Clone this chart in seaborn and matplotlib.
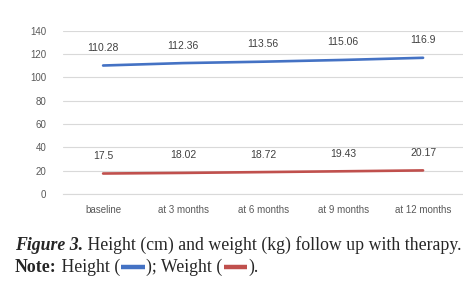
import numpy as np
import pandas as pd
import matplotlib
matplotlib.use('Agg')
import matplotlib.pyplot as plt
import seaborn as sns

categories = ['baseline', 'at 3 months', 'at 6 months', 'at 9 months', 'at 12 months']
height = [110.28, 112.36, 113.56, 115.06, 116.9]
weight = [17.5, 18.02, 18.72, 19.43, 20.17]
height_labels = ['110.28', '112.36', '113.56', '115.06', '116.9']
weight_labels = ['17.5', '18.02', '18.72', '19.43', '20.17']

blue = '#4472C4'
red = '#C0504D'

df = pd.DataFrame({'time': categories * 2,
                   'value': height + weight,
                   'series': ['Height'] * 5 + ['Weight'] * 5})
df['x'] = list(range(5)) * 2

sns.set_style('white')
plt.rcParams['font.family'] = ['Liberation Sans', 'DejaVu Sans']
fig = plt.figure(figsize=(4.64, 2.81), dpi=100)
ax = fig.add_axes([0.136, 0.310, 0.862, 0.580])

sns.lineplot(data=df, x='x', y='value', hue='series', palette=[blue, red],
             linewidth=1.9, legend=False, ax=ax)

for i in range(5):
    ax.annotate(height_labels[i], (i, height[i]), xytext=(0, 9), textcoords='offset points',
                ha='center', va='bottom', fontsize=7.5, color='#404040')
    ax.annotate(weight_labels[i], (i, weight[i]), xytext=(0, 9), textcoords='offset points',
                ha='center', va='bottom', fontsize=7.5, color='#404040')

ax.set_xlim(-0.5, 4.5)
ax.set_ylim(0, 140)
ax.set_yticks(range(0, 141, 20))
ax.set_xticks(range(5))
ax.set_xticklabels(categories)
ax.set_xticks(np.arange(0.5, 4.5, 1), minor=True)
ax.tick_params(axis='x', which='major', length=0, labelsize=7, colors='#595959', pad=8)
ax.tick_params(axis='x', which='minor', length=4, color='#d9d9d9', width=0.8)
ax.tick_params(axis='y', length=0, labelsize=7, colors='#595959', pad=12)
ax.grid(axis='y', color='#d9d9d9', linewidth=0.8)
ax.set_axisbelow(True)
for s in ['top', 'right', 'left']:
    ax.spines[s].set_visible(False)
ax.spines['bottom'].set_color('#d9d9d9')
ax.spines['bottom'].set_linewidth(0.8)
ax.set_xlabel('')
ax.set_ylabel('')

# caption
serif = 'Liberation Serif'
fig.canvas.draw()
r = fig.canvas.get_renderer()

def put(x, y, s, **kw):
    t = fig.text(x, y, s, family=serif, fontsize=12.8, va='baseline', **kw)
    bb = t.get_window_extent(renderer=r)
    return x + bb.width / fig.bbox.width

y1 = 1 - 250 / 281
x = 15 / 464
x = put(x, y1, 'Figure 3.', weight='bold', style='italic')
put(x, y1, ' Height (cm) and weight (kg) follow up with therapy.')

y2 = 1 - 272 / 281
x = 15 / 464
x = put(x, y2, 'Note:', weight='bold')
x = put(x, y2, ' Height (')
sw = 26 / 464
fig.add_artist(plt.Line2D([x + 0.003, x + sw - 0.003], [y2 + 0.017, y2 + 0.017],
                          color=blue, linewidth=3.2, solid_capstyle='butt',
                          transform=fig.transFigure))
x = put(x + sw, y2, '); Weight (')
fig.add_artist(plt.Line2D([x + 0.003, x + sw - 0.003], [y2 + 0.017, y2 + 0.017],
                          color=red, linewidth=3.2, solid_capstyle='butt',
                          transform=fig.transFigure))
put(x + sw, y2, ').')

fig.savefig('out.png', dpi=100)
